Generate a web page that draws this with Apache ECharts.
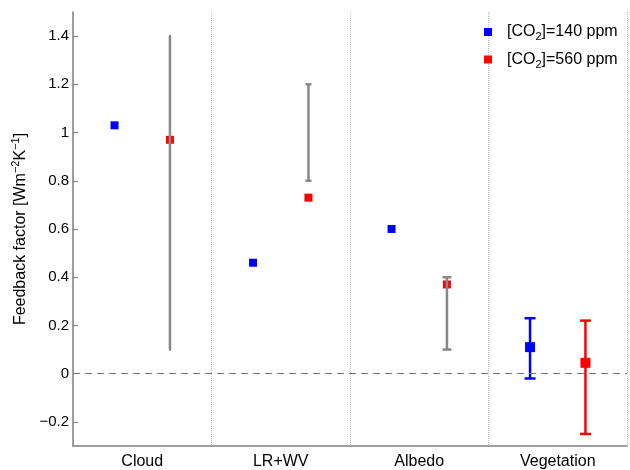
<!DOCTYPE html>
<html>
<head>
<meta charset="utf-8">
<script src="https://cdn.jsdelivr.net/npm/echarts@6/dist/echarts.min.js"></script>
<style>
  * { margin: 0; padding: 0; }
  #chart { width: 630px; height: 470px; background: #fff; }
</style>
</head>
<body>
<div id="chart"></div>
<script>
const categories = ["Cloud", "LR+WV", "Albedo", "Vegetation"];
const co2Low = [1.03, 0.46, 0.60, 0.11];   // [CO2]=140 ppm
const co2High = [0.97, 0.73, 0.37, 0.045]; // [CO2]=560 ppm
// gray ranges for the first three feedbacks
const rangeMin = [0.10, 0.80, 0.10];
const rangeMax = [1.40, 1.20, 0.40];
// vegetation error bars (140 ppm, 560 ppm)
const vegErrMin = [-0.02, -0.25];
const vegErrMax = [0.23, 0.22];
const yTicks = [-0.2, 0, 0.2, 0.4, 0.6, 0.8, 1, 1.2, 1.4];

const OFFSET = 0.2;
const capHalf = [1, 3, 4.5, 5.5];
const font = "Liberation Sans";

const dom = document.getElementById("chart");
const myChart = echarts.init(dom, null, { renderer: "canvas" });

function errBar(color, width) {
  return function (params, api) {
    const x = api.value(0);
    const top = api.coord([x, api.value(2)]);
    const bot = api.coord([x, api.value(1)]);
    const h = capHalf[api.value(3)];
    const style = { stroke: color, lineWidth: width };
    return {
      type: "group",
      children: [
        { type: "line", shape: { x1: top[0], y1: top[1], x2: bot[0], y2: bot[1] }, style: style },
        { type: "line", shape: { x1: top[0] - h, y1: top[1], x2: top[0] + h, y2: top[1] }, style: style },
        { type: "line", shape: { x1: bot[0] - h, y1: bot[1], x2: bot[0] + h, y2: bot[1] }, style: style },
      ],
    };
  };
}

const lowPts = co2Low.map((v, i) => [i + 1 - OFFSET, v]);
const highPts = co2High.map((v, i) => [i + 1 + OFFSET, v]);
const grayBars = rangeMin.map((v, i) => [i + 1 + OFFSET, v, rangeMax[i], i]);
const vegBlue = [[4 - OFFSET, vegErrMin[0], vegErrMax[0], 3]];
const vegRed = [[4 + OFFSET, vegErrMin[1], vegErrMax[1], 3]];

const legendRich = {
  gap: { width: 10 },
  sub: { fontSize: 11, verticalAlign: "bottom", padding: [10, 0, 0, 0], fontFamily: font, color: "#000" },
};

const option = {
  animation: false,
  backgroundColor: "#fff",
  textStyle: { fontFamily: font },
  grid: { left: 73, right: 3, top: 12, bottom: 24 },
  legend: {
    orient: "vertical",
    left: 479,
    top: 19,
    itemWidth: 8,
    itemHeight: 8,
    itemGap: 9,
    icon: "rect",
    data: ["low", "high"],
    formatter: function (name) {
      return name === "low" ? "{gap|}[CO{sub|2}]=140 ppm" : "{gap|}[CO{sub|2}]=560 ppm";
    },
    textStyle: { fontSize: 16, color: "#000", fontFamily: font, rich: legendRich },
  },
  xAxis: [
    {
      type: "category",
      data: categories,
      boundaryGap: true,
      axisLine: { onZero: false, lineStyle: { color: "#808080", width: 1.5 } },
      axisTick: { inside: true, alignWithLabel: true, length: 5, lineStyle: { color: "#808080" } },
      axisLabel: { color: "#000", fontSize: 16, margin: 8 },
      splitLine: { show: true, lineStyle: { color: "#bbb", type: "dotted", width: 1 } },
    },
    {
      type: "value",
      min: 0.5,
      max: 4.5,
      show: false,
    },
  ],
  yAxis: {
    type: "value",
    min: -0.3,
    max: 1.5,
    name: "Feedback factor [Wm{sup|\u22122}K{sup|\u22121}]",
    nameLocation: "middle",
    nameGap: 35,
    nameRotate: 90,
    nameTextStyle: {
      fontSize: 16,
      color: "#000",
      fontFamily: font,
      rich: { sup: { fontSize: 11, verticalAlign: "top", padding: [0, 0, 9, 0], color: "#000", fontFamily: font } },
    },
    axisLine: { show: true, onZero: false, lineStyle: { color: "#808080", width: 1.5 } },
    axisTick: { show: true, inside: true, length: 5, customValues: yTicks, lineStyle: { color: "#808080" } },
    axisLabel: {
      color: "#000",
      fontSize: 15,
      margin: 4,
      customValues: yTicks,
      formatter: function (v) {
        const r = Math.round(v * 10) / 10;
        return r < 0 ? "\u2212" + String(-r) : String(r);
      },
    },
    splitLine: { show: false },
  },
  series: [
    {
      name: "vegBlue",
      type: "custom",
      xAxisIndex: 1,
      renderItem: errBar("#0000ff", 2.5),
      data: vegBlue,
      z: 2,
    },
    {
      name: "vegRed",
      type: "custom",
      xAxisIndex: 1,
      renderItem: errBar("#ff0000", 2.5),
      data: vegRed,
      z: 2,
    },
    {
      name: "low",
      type: "scatter",
      xAxisIndex: 1,
      symbol: "rect",
      symbolSize: (v, p) => (p.dataIndex === 3 ? 10 : 8),
      itemStyle: { color: "#0000ff", opacity: 1 },
      data: lowPts,
      z: 3,
      markLine: {
        silent: true,
        symbol: "none",
        label: { show: false },
        lineStyle: { color: "#777", type: [7, 5], width: 1 },
        data: [{ yAxis: 0 }],
      },
    },
    {
      name: "high",
      type: "scatter",
      xAxisIndex: 1,
      symbol: "rect",
      symbolSize: (v, p) => (p.dataIndex === 3 ? 10 : 8),
      itemStyle: { color: "#ff0000", opacity: 1 },
      data: highPts,
      z: 3,
    },
    {
      name: "grayRange",
      type: "custom",
      xAxisIndex: 1,
      renderItem: errBar("#888888", 2.5),
      data: grayBars,
      z: 4,
    },
  ],
};

myChart.setOption(option);
</script>
</body>
</html>
